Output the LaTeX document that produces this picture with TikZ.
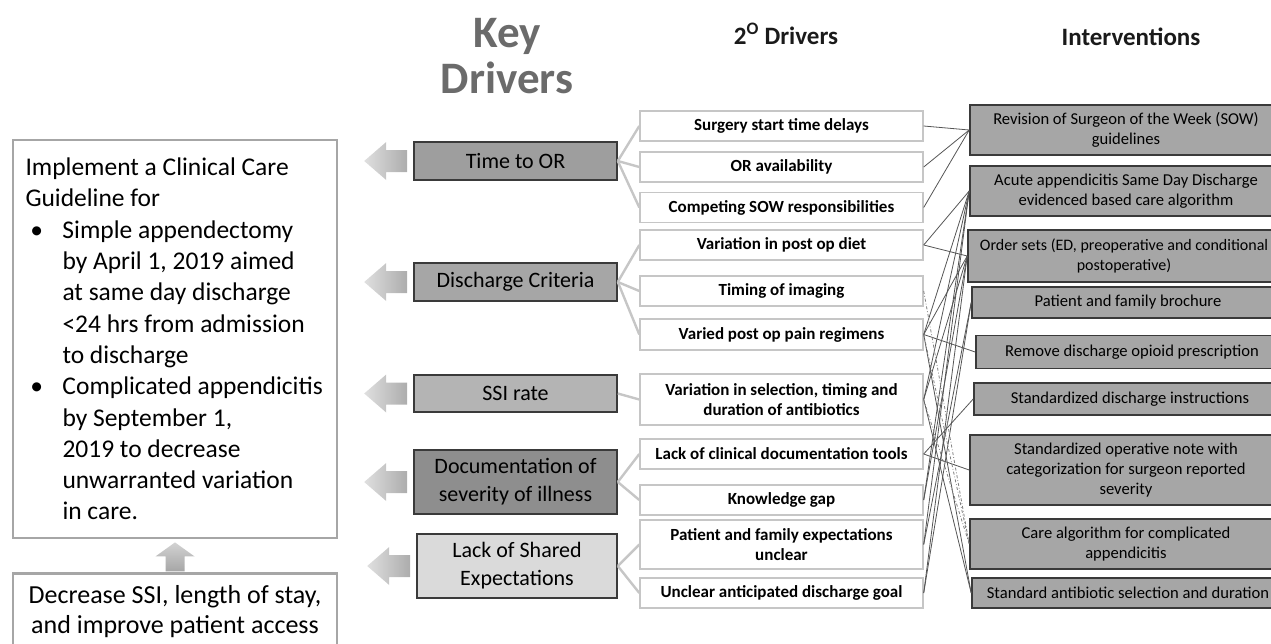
\documentclass[tikz,border=0pt]{standalone}
\usepackage{fontspec}
\setmainfont{Carlito}
\usetikzlibrary{calc}
\definecolor{cink}{HTML}{1A1A1A}
\definecolor{cgrey}{HTML}{6B6B6B}
\definecolor{cedge}{HTML}{3A3A3A}
\definecolor{cpale}{HTML}{C6C6C6}
\definecolor{cfill}{HTML}{A6A6A6}
\definecolor{cmid}{HTML}{B4B4B4}
\definecolor{cdark}{HTML}{8E8E8E}
\definecolor{clight}{HTML}{DADADA}
\definecolor{cline}{HTML}{555555}
\tikzset{
  every picture/.style={x=1pt, y=-1pt},
  keybox/.style={draw=cedge, fill=#1, line width=1.6pt, minimum width=203pt, align=center, inner sep=0pt, font=\fontsize{22}{28}\selectfont},
  keybox/.default=cfill,
  subbox/.style={draw=cpale, fill=white, line width=1.4pt, minimum width=283pt, minimum height=30pt, align=center, inner sep=0pt, font=\fontsize{17}{20}\bfseries\selectfont},
  actbox/.style={draw=cedge, fill=cfill, line width=1.6pt, minimum width=312pt, align=center, inner sep=0pt, font=\fontsize{16.6}{20}\selectfont},
  aimbox/.style={draw=cfill, fill=white, line width=2.8pt, minimum width=324pt},
  link/.style={draw=cpale, line width=2.4pt},
  tie/.style={draw=cline, line width=0.8pt},
  tiedash/.style={draw=gray, line width=0.8pt, dash dot},
  header/.style={font=\fontsize{25}{30}\bfseries\selectfont, text=cink, inner sep=0pt},
  fatarrow/.pic={\shade[left color=gray!25, right color=gray!65] (0,0) -- (22,-19) -- (22,-11) -- (43,-11) -- (43,11) -- (22,11) -- (22,19) -- cycle;},
}

\begin{document}
\begin{tikzpicture}
  \clip (0,0) rectangle (1271,643);
  % column headers
  \node[font=\fontsize{45}{46}\bfseries\selectfont, text=cgrey, align=center, inner sep=0pt, anchor=north] (keyhead) at (507,18) {Key\\Drivers};
  \node[header, anchor=base] (subhead) at (786,44) {2\textsuperscript{O} Drivers};
  \node[header, anchor=base] (acthead) at (1131,45) {Interventions};

  % aim and global goal
  \node[aimbox, minimum height=398pt, text width=299pt, inner xsep=12.5pt, inner ysep=0pt, align=flush left, font=\fontsize{25.5}{31.3}\selectfont] (aim) at (175,339)
    {Implement a Clinical Care\\Guideline for\\
     \makebox[37pt][l]{\hspace*{5pt}\textbullet}Simple appendectomy\\
     \hspace*{37pt}by April 1, 2019 aimed\\
     \hspace*{37pt}at same day discharge\\
     \hspace*{37pt}<24 hrs from admission\\
     \hspace*{37pt}to discharge\\
     \makebox[37pt][l]{\hspace*{5pt}\textbullet}\mbox{Complicated appendicitis}\\
     \hspace*{37pt}by September 1,\\
     \hspace*{37pt}2019 to decrease\\
     \hspace*{37pt}unwarranted variation\\
     \hspace*{37pt}in care.};
  \node[aimbox, minimum height=76pt, anchor=north, align=center, font=\fontsize{26}{30}\selectfont] (goal) at (175,572)
    {Decrease SSI, length of stay,\\and improve patient access};
  \shade[bottom color=gray!70, top color=gray!35] ($(aim.south)+(0,3)$) -- ++(19.5,14) -- ++(-10,0) -- ++(0,15) -- ++(-19,0) -- ++(0,-15) -- ++(-10,0) -- cycle;

  % key drivers
  \node[keybox=cfill!95!black, minimum height=38pt] (k1) at (515.5,161) {Time to OR};
  \node[keybox, minimum height=38pt] (k2) at (515.5,282) {Discharge Criteria};
  \node[keybox=cmid, minimum height=37pt] (k3) at (515.5,393.5) {SSI rate};
  \node[keybox=cdark, minimum height=64pt] (k4) at (515.5,482) {Documentation of\\severity of illness};
  \node[keybox=clight, minimum height=64pt, minimum width=200pt] (k5) at (517,566) {Lack of Shared\\Expectations};
  \foreach \k in {k1,k2,k3,k4,k5}
    \pic at ($(\k.west)+(-49,0)$) {fatarrow};

  % secondary drivers
  \node[subbox] (s1) at (781.5,126) {Surgery start time delays};
  \node[subbox] (s2) at (781.5,167) {OR availability};
  \node[subbox] (s3) at (781.5,207.5) {Competing SOW responsibilities};
  \node[subbox] (s4) at (781.5,245) {Variation in post op diet};
  \node[subbox] (s5) at (781.5,291) {Timing of imaging};
  \node[subbox, minimum height=31pt] (s6) at (781.5,334.5) {Varied post op pain regimens};
  \node[subbox, minimum height=51pt] (s7) at (781.5,399.5) {Variation in selection, timing and\\duration of antibiotics};
  \node[subbox] (s8) at (781.5,454) {Lack of clinical documentation tools};
  \node[subbox] (s9) at (781.5,500) {Knowledge gap};
  \node[subbox, minimum height=49pt] (s10) at (781.5,544.5) {Patient and family expectations\\unclear};
  \node[subbox] (s11) at (781.5,593) {Unclear anticipated discharge goal};

  % interventions
  \node[actbox, minimum height=50pt] (i1) at (1126,130) {Revision of Surgeon of the Week (SOW)\\guidelines};
  \node[actbox, minimum height=50pt] (i2) at (1126,191) {Acute appendicitis Same Day Discharge\\evidenced based care algorithm};
  \node[actbox, minimum height=52pt, font=\fontsize{16}{20}\selectfont] (i3) at (1124,256) {Order sets (ED, preoperative and conditional\\postoperative)};
  \node[actbox, minimum height=31pt] (i4) at (1128,302.5) {Patient and family brochure};
  \node[actbox, minimum height=33pt] (i5) at (1132,352) {Remove discharge opioid prescription};
  \node[actbox, minimum height=32pt] (i6) at (1130,399) {Standardized discharge instructions};
  \node[actbox, minimum height=70pt] (i7) at (1126,470) {Standardized operative note with\\categorization for surgeon reported\\severity};
  \node[actbox, minimum height=50pt] (i8) at (1126,544) {Care algorithm for complicated\\appendicitis};
  \node[actbox, minimum height=30pt] (i9) at (1128,593) {Standard antibiotic selection and duration};

  % key driver to secondary driver
  \foreach \a/\b in {k1/s1,k1/s2,k1/s3,k2/s4,k2/s5,k2/s6,k3/s7,k4/s8,k4/s9,k5/s10,k5/s11}
    \draw[link] (\a.east) -- (\b.west);
  % secondary driver to intervention
  \foreach \a/\b in {s1/i1,s2/i1,s3/i1,s4/i2,s4/i3,s6/i2,s6/i3,s6/i5,s6/i9,s7/i2,s7/i3,s7/i9,
                     s8/i6,s8/i7,s9/i2,s9/i3,s10/i2,s10/i4,s11/i3,s11/i4}
    \draw[tie] (\a.east) -- (\b.west);
  \foreach \a/\b in {s5/i8,s6/i8,s7/i8}
    \draw[tiedash] (\a.east) -- (\b.west);
\end{tikzpicture}
\end{document}
